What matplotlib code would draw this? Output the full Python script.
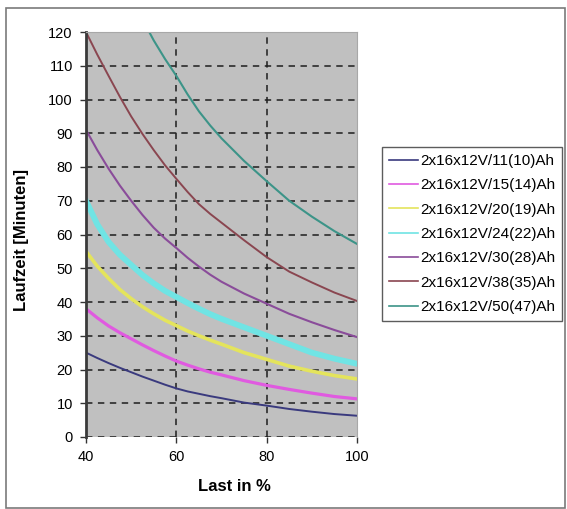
import matplotlib
matplotlib.use("Agg")
import matplotlib.pyplot as plt
from matplotlib.patches import Rectangle

plt.rcParams['font.family'] = ['Liberation Sans', 'DejaVu Sans']

# Last in % (x) and Laufzeit in Minuten (y)
last = [40, 42.5, 45, 47.5, 50, 52.5, 55, 57.5, 60, 62.5, 65, 67.5, 70,
        75, 80, 85, 90, 95, 100]
ah11 = [25, 23.4, 21.9, 20.5, 19.2, 17.9, 16.7, 15.5, 14.4, 13.5, 12.8, 12.1, 11.5,
        10.2, 9.3, 8.3, 7.5, 6.8, 6.3]
ah15 = [38, 35.3, 32.9, 30.9, 29.1, 27.3, 25.6, 24, 22.5, 21.3, 20.2, 19.2, 18.4,
        16.7, 15.3, 14.1, 13, 12, 11.3]
ah20 = [55, 50.6, 47, 43.7, 41, 38.6, 36.5, 34.6, 33, 31.4, 30, 28.7, 27.5,
        25, 23, 21, 19.5, 18.2, 17.2]
ah24 = [70, 63, 57.8, 54, 51, 48, 45.5, 43.3, 41.5, 39.7, 38, 36.4, 35,
        32.5, 30, 27.5, 25, 23.2, 21.7]
ah30 = [91, 85, 79.5, 74.5, 70, 65.8, 62, 58.8, 56, 53.1, 50.5, 48.1, 46,
        42.5, 39.5, 36.5, 34, 31.7, 29.6]
ah38 = [120, 113.3, 107, 100.8, 95, 89.8, 85, 80.5, 76.5, 72.6, 69, 66.1, 63.5,
        58.3, 53.3, 49, 45.8, 42.8, 40.3]
last50 = [54, 55, 57.5, 60, 62.5, 65, 67.5, 70, 75, 80, 85, 90, 95, 100]
ah50 = [120, 117.5, 112, 107, 101.5, 96.5, 92.3, 88.5, 81.8, 75.8, 70, 65.3, 61, 57.2]

labels = ['2x16x12V/11(10)Ah', '2x16x12V/15(14)Ah', '2x16x12V/20(19)Ah',
          '2x16x12V/24(22)Ah', '2x16x12V/30(28)Ah', '2x16x12V/38(35)Ah',
          '2x16x12V/50(47)Ah']
colors = ['#3a3a7e', '#e05ae0', '#e4e45c', '#70e4e4', '#8a4c9a', '#8a4650', '#3c9488']
widths = [1.4, 2.3, 2.6, 4.2, 1.5, 1.4, 1.5]

fig = plt.figure(figsize=(5.67, 5.09), dpi=100)
ax = fig.add_axes([86 / 567, 1 - 437 / 509, 271 / 567, 405 / 509])
ax.set_facecolor('#c0c0c0')

# outer frame of the picture
fig.patches.append(Rectangle((6 / 567, 1 / 509), 559 / 567, 500 / 509,
                             transform=fig.transFigure, fill=False,
                             edgecolor='#7a7a7a', linewidth=1.2))

series = [(last, ah11), (last, ah15), (last, ah20), (last, ah24),
          (last, ah30), (last, ah38), (last50, ah50)]
for (xs, ys), lab, c, w in zip(series, labels, colors, widths):
    ax.plot(xs, ys, color=c, linewidth=w, label=lab, solid_joinstyle='round')

ax.set_xlim(40, 100)
ax.set_ylim(0, 120)
ax.set_xticks([40, 60, 80, 100])
ax.set_yticks(range(0, 121, 10))
ax.tick_params(labelsize=10.5, length=4.5, width=1, color='#333333', pad=5)

ax.grid(True, color='#1e1e1e', linewidth=1.1, linestyle=(0, (4.2, 3.6)))
ax.set_axisbelow(True)
# no dashed line on the outer edges
gx = ax.xaxis.get_gridlines()
gx[0].set_visible(False)
gx[-1].set_visible(False)
ax.yaxis.get_gridlines()[-1].set_visible(False)

ax.spines['left'].set_color('#3a3a3a')
ax.spines['left'].set_linewidth(2)
ax.spines['bottom'].set_visible(False)
for s in ['top', 'right']:
    ax.spines[s].set_color('#a8a8a8')
    ax.spines[s].set_linewidth(0.8)

ax.set_xlabel('Last in %', fontsize=12, fontweight='bold')
ax.set_ylabel('Laufzeit [Minuten]', fontsize=12, fontweight='bold')
ax.xaxis.set_label_coords(0.546, -0.104)
ax.yaxis.set_label_coords(-0.21, 0.486)

leg = fig.legend(loc='upper left', bbox_to_anchor=(382 / 567, 1 - 147 / 509),
                 fontsize=11, frameon=True, fancybox=False, borderaxespad=0,
                 handlelength=1.9, handletextpad=0.15, borderpad=0.45,
                 labelspacing=0.68)
leg.get_frame().set_edgecolor('#333333')
leg.get_frame().set_linewidth(1)
for ln in leg.get_lines():
    ln.set_linewidth(1.2)

fig.savefig('out.png', dpi=100)
